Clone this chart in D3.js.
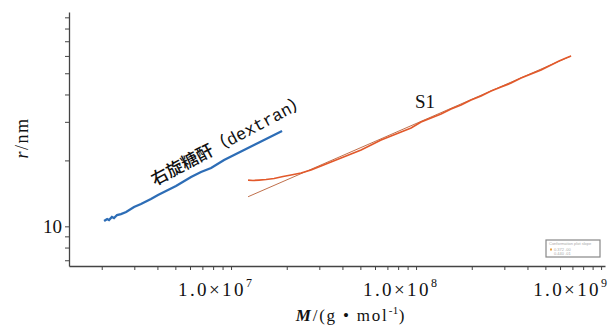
<!DOCTYPE html>
<html><head><meta charset="utf-8">
<script src="https://cdn.jsdelivr.net/npm/d3@7"></script>
<style>body{margin:0;background:#fff}</style>
</head><body><svg id="c" width="610" height="325"></svg>
<script>
// Dextran series (M in g/mol, r in nm)
const dextranM = [2.06e6,2.14e6,2.19e6,2.27e6,2.33e6,2.42e6,2.54e6,2.71e6,2.99e6,3.26e6,3.69e6,4.03e6,4.45e6,5.04e6,6.08e6,6.88e6,7.80e6,9.17e6,1.064e7,1.205e7,1.399e7,1.546e7,1.708e7,1.887e7];
const dextranR = [10.57,10.80,10.69,11.03,10.91,11.26,11.38,11.62,12.25,12.64,13.33,13.90,14.49,15.28,16.80,17.70,18.46,20.08,21.39,22.54,24.01,25.04,26.12,27.24];
// S1 series
const s1M = [1.236e7,1.315e7,1.417e7,1.546e7,1.708e7,1.910e7,2.110e7,2.389e7,2.706e7,3.065e7,3.471e7,3.932e7,4.453e7,5.044e7,5.713e7,6.470e7,7.329e7,8.300e7,9.397e7,1.064e8,1.205e8,1.365e8,1.546e8,1.751e8,1.983e8,2.246e8,2.544e8,2.881e8,3.263e8,3.695e8,4.185e8,4.740e8,5.368e8,5.929e8,6.470e8,6.883e8];
const s1R = [16.27,16.19,16.27,16.36,16.53,16.88,17.15,17.52,18.07,18.85,19.66,20.51,21.39,22.31,23.51,24.78,25.85,26.96,28.12,29.94,31.23,32.57,34.33,35.81,37.74,39.36,41.48,43.26,45.11,47.55,49.60,51.73,54.53,56.87,58.69,59.94];
// S1 linear fit (log-log)
const s1FitM = [1.236e7, 6.883e8];
const s1FitR = [13.65, 59.94];
// Ticks
const xMajorTicks = [1e7, 1e8, 1e9];
const xMinorMultipliers = [2,3,4,5,6,7,8,9];
const xMinorDecades = [1e6, 1e7, 1e8];
const yTicks = [7,8,9,10,20,30,40,50,60,70,80,90];
const yLabeled = [10];
// Labels
const xTitleMain = "M";
const xTitleRest = "/(g • mol";
const xTitleSup = "-1";
const yTitleMain = "r";
const yTitleRest = "/nm";
const dextranLabelCJK = "右旋糖酐（";
const dextranLabelLatin = "dextran";
const s1Label = "S1";
const legendTitle = "Conformation plot slope";
const legendSlopes = ["0.372", "0.440"];
const legendErrs = [".00", ".01"];

const svg = d3.select("#c");
const x = d3.scaleLog().domain([1.331e6, 1.05e9]).range([69, 605]);
const y = d3.scaleLog().domain([6.59, 95.2]).range([266, 12]);

const xMinor = xMinorDecades.flatMap(d => xMinorMultipliers.map(m => m * d));
const xAll = xMinor.concat(xMajorTicks).sort((a,b)=>a-b);

const axisColor = "#444";
const gx = svg.append("g").attr("transform", "translate(0,266)")
  .call(d3.axisBottom(x).tickValues(xAll).tickSize(4).tickSizeOuter(0).tickFormat(() => ""));
gx.select(".domain").attr("stroke", axisColor).attr("stroke-width", 1.3);
gx.selectAll(".tick line").attr("stroke", axisColor).attr("stroke-width", 1);

// major x labels
xMajorTicks.forEach(t => {
  const txt = svg.append("text")
    .attr("y", 296)
    .attr("font-family", "Liberation Serif, serif")
    .attr("font-size", 19).attr("letter-spacing", 2.4).attr("fill", "#111");
  txt.append("tspan").text("1.0×10");
  txt.append("tspan").attr("font-size", 12).attr("letter-spacing", 0).attr("dy", -9).text(String(Math.round(Math.log10(t))));
  let x0 = x(t) - 53;
  const w = txt.node().getComputedTextLength();
  if (x0 + w > 607) x0 = 607 - w;
  txt.attr("x", x0);
});

const gy = svg.append("g").attr("transform", "translate(69,0)")
  .call(d3.axisLeft(y).tickValues(yTicks).tickSize(4).tickSizeOuter(0)
    .tickFormat(d => yLabeled.includes(d) ? String(d) : ""));
gy.select(".domain").attr("stroke", axisColor).attr("stroke-width", 1.3);
gy.selectAll(".tick line").attr("stroke", axisColor).attr("stroke-width", 1);
gy.selectAll(".tick text").attr("font-family", "Liberation Serif, serif")
  .attr("font-size", 19).attr("fill", "#111");

// axis titles
const xt = svg.append("text").attr("x", 351).attr("y", 321).attr("text-anchor", "middle")
  .attr("font-family", "Liberation Serif, serif").attr("font-size", 17).attr("letter-spacing", 1.8).attr("fill", "#111");
xt.append("tspan").attr("font-style", "italic").attr("font-weight", "bold").text(xTitleMain);
xt.append("tspan").text(xTitleRest);
xt.append("tspan").attr("font-size", 11).attr("letter-spacing", 0.5).attr("dy", -7).text(xTitleSup);
xt.append("tspan").attr("dy", 7).text(")");

const yt = svg.append("text").attr("transform", "translate(28,138) rotate(-90)").attr("text-anchor", "middle")
  .attr("font-family", "Liberation Serif, serif").attr("font-size", 18).attr("letter-spacing", 1.5).attr("fill", "#111");
yt.append("tspan").attr("font-style", "italic").text(yTitleMain);
yt.append("tspan").text(yTitleRest);

// lines
const line = d3.line().x(d => x(d[0])).y(d => y(d[1]));
svg.append("path").datum(s1FitM.map((m,i)=>[m, s1FitR[i]]))
  .attr("d", line).attr("fill", "none").attr("stroke", "#c0704c").attr("stroke-width", 1);
svg.append("path").datum(s1M.map((m,i)=>[m, s1R[i]]))
  .attr("d", line).attr("fill", "none").attr("stroke", "#e2592b").attr("stroke-width", 1.7);
svg.append("path").datum(dextranM.map((m,i)=>[m, dextranR[i]]))
  .attr("d", line).attr("fill", "none").attr("stroke", "#2d6db6").attr("stroke-width", 2.3);

// annotations
const dl = svg.append("text").attr("transform", "translate(155,186) rotate(-28)")
  .attr("font-size", 17).attr("fill", "#111");
dl.append("tspan").attr("font-family", "Noto Sans CJK SC").attr("font-weight", 500).text(dextranLabelCJK);
dl.append("tspan").attr("font-family", "Liberation Mono, monospace").text(dextranLabelLatin);
dl.append("tspan").attr("font-family", "Noto Sans CJK SC").attr("font-weight", 500).text("）");

svg.append("text").attr("x", 415).attr("y", 108)
  .attr("font-family", "Liberation Serif, serif").attr("font-size", 19).attr("fill", "#111").text(s1Label);

// legend box
const lg = svg.append("g").attr("transform", "translate(546,240)");
lg.append("rect").attr("width", 54).attr("height", 17).attr("fill", "#fff")
  .attr("stroke", "#888").attr("stroke-width", 1.2);
lg.append("text").attr("x", 3).attr("y", 5).attr("font-size", 4).attr("fill", "#aaa")
  .attr("font-family", "Liberation Sans, sans-serif").text(legendTitle);
legendSlopes.forEach((s, i) => {
  if (i === 0) lg.append("rect").attr("x", 4).attr("y", 8.5).attr("width", 2).attr("height", 2).attr("fill", "#e8a040");
  lg.append("text").attr("x", 8).attr("y", 10.5 + i * 4.5).attr("font-size", 4).attr("fill", "#aaa")
    .attr("font-family", "Liberation Sans, sans-serif").text(s + "    " + legendErrs[i]);
});
</script></body></html>
